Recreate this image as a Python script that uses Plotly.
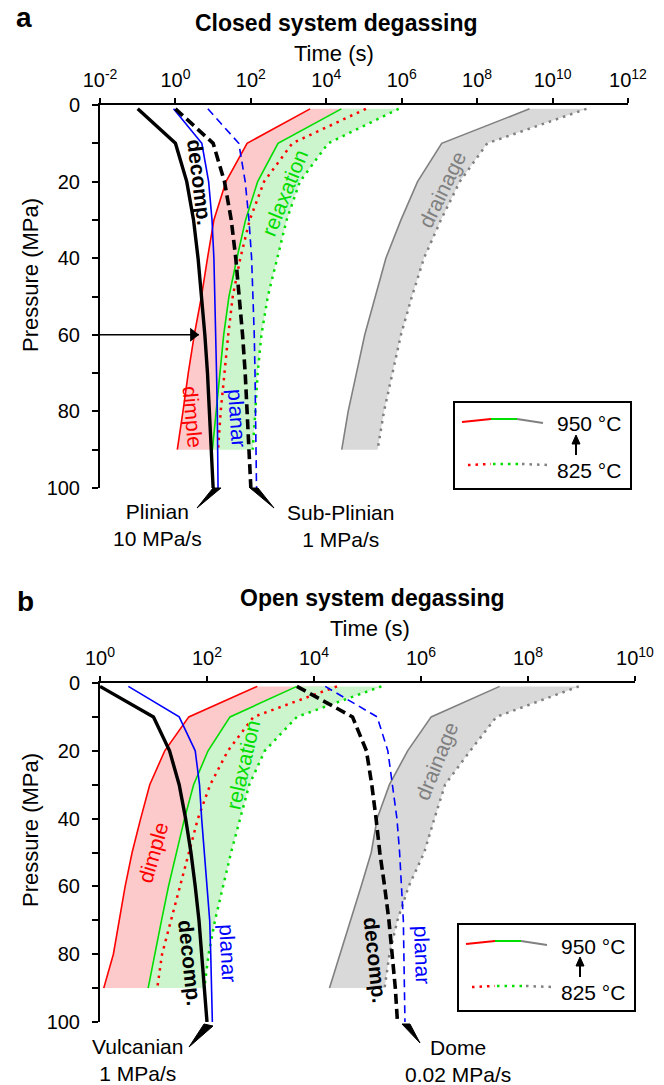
import plotly.graph_objects as go

W, H = 664, 1085
FONT = "Liberation Sans, Arial, sans-serif"

# ---------------- data (time as log10 seconds) ----------------
p_band = [1, 10, 20, 30, 40, 50, 60, 70, 80, 90]            # MPa, bubble-mechanism curves
p_full = [1, 10, 20, 30, 40, 50, 60, 70, 80, 90, 100]       # MPa, decompression / planar curves

# Panel a: closed system degassing
a_decomp_fast = [-1.0, 0.0, 0.30, 0.48, 0.60, 0.70, 0.78, 0.85, 0.90, 0.95, 1.0]     # Plinian 10 MPa/s
a_planar_fast = [-0.05, 0.70, 0.88, 0.97, 1.02, 1.05, 1.07, 1.09, 1.11, 1.12, 1.13]
a_decomp_slow = [0.0, 1.0, 1.30, 1.48, 1.60, 1.70, 1.78, 1.85, 1.90, 1.95, 2.0]      # Sub-Plinian 1 MPa/s
a_planar_slow = [0.86, 1.68, 1.85, 1.95, 2.02, 2.06, 2.09, 2.11, 2.13, 2.14, 2.15]
a_dimple_950 = [3.57, 1.90, 1.34, 1.02, 0.85, 0.69, 0.50, 0.34, 0.20, 0.05]
a_dimple_825 = [5.05, 3.10, 2.35, 1.97, 1.72, 1.52, 1.40, 1.30, 1.20, 1.13]
a_relax_950 = [4.40, 2.72, 2.18, 1.86, 1.63, 1.42, 1.28, 1.18, 1.08, 0.98]
a_relax_825 = [5.92, 4.05, 3.30, 2.95, 2.70, 2.45, 2.28, 2.18, 2.12, 2.05]
a_drain_950 = [9.39, 7.06, 6.42, 5.98, 5.58, 5.30, 5.02, 4.80, 4.58, 4.41]
a_drain_825 = [10.9, 8.27, 7.54, 7.04, 6.59, 6.27, 5.98, 5.75, 5.53, 5.36]
a_arrow_p = 60            # MPa, arrow drawn from the axis to the Plinian curve
a_arrow_tip = 0.62        # log10 s

# Panel b: open system degassing
b_decomp_fast = [0.0, 1.0, 1.30, 1.48, 1.60, 1.70, 1.78, 1.85, 1.90, 1.95, 2.0]      # Vulcanian 1 MPa/s
b_planar_fast = [0.53, 1.48, 1.78, 1.86, 1.90, 1.95, 2.00, 2.05, 2.07, 2.08, 2.10]
b_decomp_slow = [3.68, 4.72, 4.98, 5.08, 5.16, 5.23, 5.32, 5.40, 5.46, 5.52, 5.56]   # Dome 0.02 MPa/s
b_planar_slow = [4.21, 5.18, 5.38, 5.46, 5.55, 5.60, 5.64, 5.67, 5.68, 5.69, 5.70]
b_dimple_950 = [2.94, 1.66, 1.21, 0.93, 0.76, 0.60, 0.47, 0.36, 0.25, 0.07]
b_dimple_825 = [4.43, 2.87, 2.39, 2.06, 1.83, 1.66, 1.50, 1.33, 1.16, 1.07]
b_relax_950 = [3.68, 2.43, 2.02, 1.75, 1.58, 1.43, 1.28, 1.15, 1.03, 0.90]
b_relax_825 = [5.26, 3.68, 3.08, 2.79, 2.62, 2.45, 2.30, 2.15, 2.03, 1.95]
b_drain_950 = [7.47, 6.19, 5.75, 5.41, 5.18, 5.07, 4.88, 4.68, 4.48, 4.29]
b_drain_825 = [8.95, 7.41, 6.92, 6.45, 6.25, 6.06, 5.77, 5.56, 5.41, 5.32]

a_time_exp = list(range(-2, 13, 2))
b_time_exp = list(range(0, 11, 2))
p_ticks = list(range(0, 101, 20))

# ---------------- styling ----------------
RED, GREEN, GRAY, BLUE = "#ff0000", "#00dd00", "#808080", "#0000ff"
PINK_FILL, GREEN_FILL, GRAY_FILL = "#fccaca", "#cdf5cd", "#d9d9d9"
DOT = "2.5px,5px"


def t(vals):
    return [10 ** v for v in vals]


def px(x):
    return x / W


def py(y):
    return 1 - y / H


fig = go.Figure()


def add_panel(xa, ya, bands, dec_fast, pl_fast, dec_slow, pl_slow):
    for solid, dotted, col, fillc in bands:
        fig.add_trace(go.Scatter(
            x=t(solid) + t(dotted)[::-1], y=p_band + p_band[::-1],
            fill="toself", fillcolor=fillc, line=dict(width=0), mode="lines",
            xaxis=xa, yaxis=ya, hoverinfo="skip", showlegend=False))
    for solid, dotted, col, fillc in bands:
        fig.add_trace(go.Scatter(x=t(dotted), y=p_band, mode="lines",
                                 line=dict(color=col, width=2.5, dash=DOT),
                                 xaxis=xa, yaxis=ya, showlegend=False))
        fig.add_trace(go.Scatter(x=t(solid), y=p_band, mode="lines",
                                 line=dict(color=col, width=1.6),
                                 xaxis=xa, yaxis=ya, showlegend=False))
    fig.add_trace(go.Scatter(x=t(pl_slow), y=p_full, mode="lines",
                             line=dict(color=BLUE, width=1.6, dash="8px,5px"),
                             xaxis=xa, yaxis=ya, showlegend=False))
    fig.add_trace(go.Scatter(x=t(pl_fast), y=p_full, mode="lines",
                             line=dict(color=BLUE, width=1.6),
                             xaxis=xa, yaxis=ya, showlegend=False))
    fig.add_trace(go.Scatter(x=t(dec_slow), y=p_full, mode="lines",
                             line=dict(color="black", width=3.6, dash="10px,5px"),
                             xaxis=xa, yaxis=ya, showlegend=False))
    fig.add_trace(go.Scatter(x=t(dec_fast), y=p_full, mode="lines",
                             line=dict(color="black", width=3.4),
                             xaxis=xa, yaxis=ya, showlegend=False))


add_panel("x", "y",
          [(a_dimple_950, a_dimple_825, RED, PINK_FILL),
           (a_relax_950, a_relax_825, GREEN, GREEN_FILL),
           (a_drain_950, a_drain_825, GRAY, GRAY_FILL)],
          a_decomp_fast, a_planar_fast, a_decomp_slow, a_planar_slow)
add_panel("x2", "y2",
          [(b_dimple_950, b_dimple_825, RED, PINK_FILL),
           (b_relax_950, b_relax_825, GREEN, GREEN_FILL),
           (b_drain_950, b_drain_825, GRAY, GRAY_FILL)],
          b_decomp_fast, b_planar_fast, b_decomp_slow, b_planar_slow)

# arrow at 60 MPa (panel a): shaft + head
fig.add_trace(go.Scatter(x=[10 ** a_time_exp[0], 10 ** a_arrow_tip], y=[a_arrow_p, a_arrow_p],
                         mode="lines", line=dict(color="black", width=1.6),
                         xaxis="x", yaxis="y", showlegend=False))
fig.add_trace(go.Scatter(x=[10 ** (a_arrow_tip - 0.15)], y=[a_arrow_p], mode="markers",
                         marker=dict(symbol="triangle-right", size=12, color="black"),
                         xaxis="x", yaxis="y", showlegend=False))

tickfont = dict(family=FONT, size=20, color="black")


def xaxis_cfg(exps, dom, anchor):
    return dict(type="log", range=[exps[0], exps[-1]], side="top", anchor=anchor,
                domain=dom, automargin=False, showgrid=False, zeroline=False, showline=True,
                linecolor="black", linewidth=2, ticks="outside", ticklen=5,
                tickwidth=2, tickcolor="black",
                tickvals=[10 ** e for e in exps],
                ticktext=[f"10<sup>{e}</sup>" for e in exps],
                tickfont=tickfont, ticklabelstandoff=3)


def yaxis_cfg(dom, anchor):
    return dict(range=[100, 0], anchor=anchor, domain=dom, automargin=False, showgrid=False,
                zeroline=False, showline=True, linecolor="black", linewidth=2,
                ticks="outside", ticklen=6, tickwidth=2, tickcolor="black",
                tickvals=p_ticks, tickfont=tickfont, ticklabelstandoff=8,
                minor=dict(dtick=10, ticks="outside", ticklen=6, tickwidth=2,
                           tickcolor="black", showgrid=False))


fig.update_layout(
    width=W, height=H, margin=dict(l=0, r=0, t=0, b=0, autoexpand=False),
    paper_bgcolor="white", plot_bgcolor="white", showlegend=False,
    font=dict(family=FONT, color="black"),
    xaxis=xaxis_cfg(a_time_exp, [px(100), px(628)], "y"),
    yaxis=yaxis_cfg([py(488), py(105)], "x"),
    xaxis2=xaxis_cfg(b_time_exp, [px(100), px(635)], "y2"),
    yaxis2=yaxis_cfg([py(1022), py(683)], "x2"),
)

ann = []


def text_px(x, y, s, size=21, bold=False, angle=0, color="black"):
    if bold:
        s = f"<b>{s}</b>"
    ann.append(dict(x=px(x), y=py(y), xref="paper", yref="paper", text=s,
                    showarrow=False, textangle=angle, xanchor="center", yanchor="middle",
                    font=dict(family=FONT, size=size, color=color)))


def text_data(xa, ya, lx, p, s, color, angle, size=21, bold=False):
    if bold:
        s = f"<b>{s}</b>"
    ann.append(dict(x=lx, y=p, xref=xa, yref=ya, text=s, showarrow=False,
                    textangle=angle, xanchor="center", yanchor="middle",
                    font=dict(family=FONT, size=size, color=color)))


# titles
text_px(24, 18, "a", size=28, bold=True)
text_px(336, 23, "Closed system degassing", size=23, bold=True)
text_px(334, 54, "Time (s)", size=22)
text_px(30, 275, "Pressure (MPa)", size=22, angle=-90)

text_px(25, 601, "b", size=28, bold=True)
text_px(372, 598, "Open system degassing", size=23, bold=True)
text_px(370, 628, "Time (s)", size=22)
text_px(30, 830, "Pressure (MPa)", size=22, angle=-90)

# in-plot labels panel a
text_data("x", "y", 0.64, 20, "decomp.", "black", 83, size=21, bold=True)
text_data("x", "y", 2.88, 23, "relaxation", GREEN, -68)
text_data("x", "y", 7.07, 22, "drainage", GRAY, -64)
text_data("x", "y", 0.47, 81.5, "dimple", RED, 85)
text_data("x", "y", 1.63, 81.7, "planar", BLUE, 86)

# in-plot labels panel b
text_data("x2", "y2", 2.67, 24, "relaxation", GREEN, -77)
text_data("x2", "y2", 6.30, 23, "drainage", GRAY, -68)
text_data("x2", "y2", 0.99, 50, "dimple", RED, -74)
text_data("x2", "y2", 1.68, 82.5, "decomp.", "black", 84, size=21, bold=True)
text_data("x2", "y2", 2.39, 79.6, "planar", BLUE, 87)
text_data("x2", "y2", 5.14, 81.7, "decomp.", "black", 84, size=21, bold=True)
text_data("x2", "y2", 6.02, 80.2, "planar", BLUE, 88)

# eruption-style labels
text_px(157, 525, "Plinian<br>10 MPa/s")
text_px(340, 526, "Sub-Plinian<br>1 MPa/s")
text_px(137, 1060, "Vulcanian<br>1 MPa/s")
text_px(458, 1061, "Dome<br>0.02 MPa/s")

shapes = []


def poly(pts):
    d = "M " + " L ".join(f"{px(x)},{py(y)}" for x, y in pts) + " Z"
    shapes.append(dict(type="path", path=d, xref="paper", yref="paper",
                       fillcolor="black", line=dict(color="black", width=1)))


poly([(213, 488), (221, 488), (197, 508)])
poly([(250, 488), (258, 488), (274, 508)])
poly([(204, 1024), (213, 1026), (189, 1047)])
poly([(402, 1024), (410, 1024), (420, 1043)])


def seg(a, b, color, width, dash=None):
    line = dict(color=color, width=width)
    if dash:
        line["dash"] = dash
    shapes.append(dict(type="line", xref="paper", yref="paper",
                       x0=px(a[0]), y0=py(a[1]), x1=px(b[0]), y1=py(b[1]), line=line))


def legend_box(x0, y0):
    shapes.append(dict(type="rect", xref="paper", yref="paper",
                       x0=px(x0), x1=px(x0 + 177), y0=py(y0), y1=py(y0 + 87),
                       line=dict(color="black", width=2), fillcolor="white"))
    seg((x0 + 8, y0 + 20), (x0 + 37, y0 + 17), RED, 2)
    seg((x0 + 37, y0 + 17), (x0 + 63, y0 + 17), GREEN, 2)
    seg((x0 + 63, y0 + 17), (x0 + 89, y0 + 21), GRAY, 2)
    seg((x0 + 14, y0 + 63), (x0 + 37, y0 + 62), RED, 2.5, DOT)
    seg((x0 + 39, y0 + 62), (x0 + 64, y0 + 62), GREEN, 2.5, DOT)
    seg((x0 + 68, y0 + 62), (x0 + 94, y0 + 63), GRAY, 2.5, DOT)
    text_px(x0 + 135, y0 + 22, "950 °C")
    text_px(x0 + 135, y0 + 68, "825 °C")
    seg((x0 + 122, y0 + 53), (x0 + 122, y0 + 40), "black", 2)
    poly([(x0 + 118, y0 + 42), (x0 + 126, y0 + 42), (x0 + 122, y0 + 33)])


legend_box(454, 402)
legend_box(458, 924)

fig.update_layout(annotations=ann, shapes=shapes)
fig.write_html("out.html", config={"displayModeBar": False, "staticPlot": True},
               post_script="document.body.style.margin='0px';document.body.style.overflow='hidden';")
